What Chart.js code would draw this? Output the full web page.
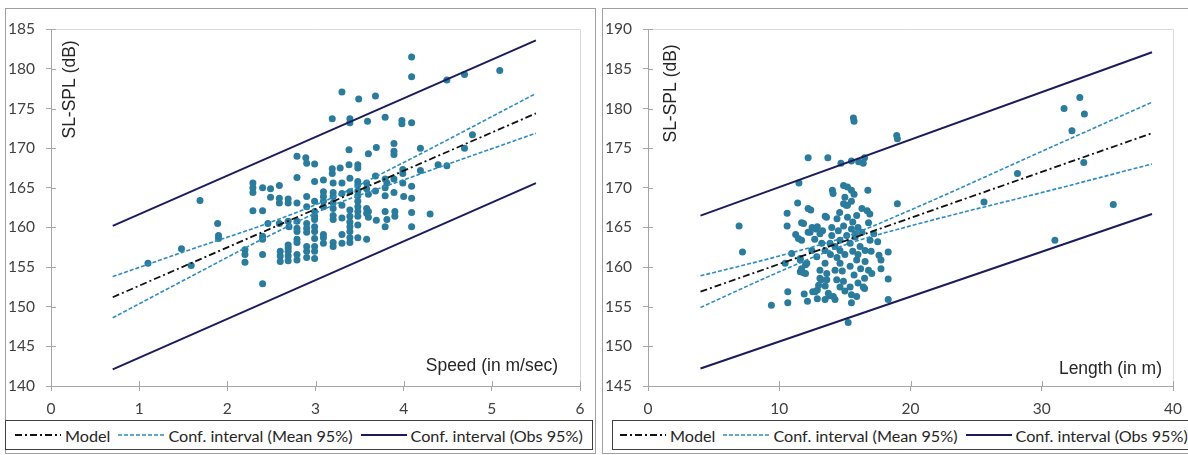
<!DOCTYPE html>
<html>
<head>
<meta charset="utf-8">
<script src="https://cdn.jsdelivr.net/npm/chart.js@4.4.1/dist/chart.umd.min.js"></script>
<style>
    html, body { margin: 0; padding: 0; background: #fff; }
    body { position: relative; width: 1188px; height: 455px; overflow: hidden; font-family: Lato, "Open Sans", sans-serif; }
    .panel { position: absolute; top: 8px; height: 446px; border: 1px solid #a0a0a0; box-sizing: border-box; }
    #p1 { left: 5px; width: 591px; }
    #p2 { left: 602px; width: 620px; }
    .wrap { position: absolute; left: 0; top: 0; height: 410px; }
    #p1 .wrap { width: 589px; }
    #p2 .wrap { width: 618px; }
    .legend { position: absolute; top: 411px; height: 30px; border: 1px solid #404040; box-sizing: border-box;
              display: flex; align-items: center; white-space: nowrap; font-size: 16.2px; color: #262626; }
    #p1 .legend { left: -1px; width: 588px; padding-left: 9px; }
    #p2 .legend { left: 9px; width: 600px; padding-left: 7px; }
    .legend span { display: inline-flex; align-items: center; margin-right: 8px; }
    .legend svg { margin-right: 4px; }
</style>
</head>
<body>
<div class="panel" id="p1">
    <div class="wrap"><canvas id="speedChart"></canvas></div>
    <div class="legend" id="speedLegend"></div>
</div>
<div class="panel" id="p2">
    <div class="wrap"><canvas id="lengthChart"></canvas></div>
    <div class="legend" id="lengthLegend"></div>
</div>
<script>
// Observations: [speed (m/s), SL-SPL (dB)]
const speedPoints = [
    [1.10,155.5],[1.48,157.3],[1.59,155.2],[1.69,163.4],[1.89,160.5],[1.90,159.0],[1.90,158.6],
    [2.20,157.2],[2.20,156.6],[2.20,155.6],
    [2.29,165.6],[2.29,165.0],[2.29,164.4],[2.29,162.1],
    [2.40,165.0],[2.40,162.1],[2.40,158.9],[2.40,158.5],[2.40,156.6],[2.40,152.9],
    [2.49,164.9],[2.49,163.8],[2.46,160.5],
    [2.59,165.3],[2.59,163.7],[2.59,163.1],[2.59,160.5],[2.60,157.0],[2.60,156.4],[2.60,155.7],
    [2.69,163.6],[2.69,163.1],[2.70,160.1],[2.69,160.8],[2.69,157.8],[2.69,157.4],[2.69,157.0],[2.69,156.4],[2.69,155.8],
    [2.79,169.0],[2.79,166.3],[2.79,163.1],[2.79,160.8],[2.79,159.9],[2.79,159.5],[2.79,158.5],[2.79,158.1],[2.79,156.6],[2.79,155.9],
    [2.89,168.8],[2.90,168.1],[2.90,163.9],[2.90,162.6],[2.90,160.5],[2.90,159.9],[2.90,159.4],[2.90,157.6],[2.90,157.0],[2.90,156.2],
    [2.99,168.0],[2.99,165.8],[2.99,163.3],[2.99,162.0],[2.99,161.4],[2.99,161.0],[2.99,160.1],[2.99,159.5],[2.99,158.6],[2.99,157.6],[2.99,157.0],[2.99,156.1],
    [3.09,166.0],[3.09,164.5],[3.09,163.9],[3.09,163.3],[3.09,162.6],[3.09,159.1],[3.09,158.7],[3.09,158.0],
    [3.19,173.7],[3.19,167.4],[3.19,166.8],[3.20,165.6],[3.20,164.4],[3.20,163.9],[3.20,163.1],[3.20,162.4],[3.20,161.5],[3.20,161.0],[3.20,158.1],[3.20,157.6],
    [3.30,177.1],[3.28,167.5],[3.30,165.6],[3.30,164.3],[3.30,162.8],[3.30,161.2],[3.30,159.1],[3.30,158.0],
    [3.39,173.7],[3.39,173.2],[3.38,169.8],[3.38,167.9],[3.39,166.2],[3.39,164.5],[3.39,162.2],[3.39,161.4],[3.39,160.7],[3.39,160.1],[3.39,159.5],[3.39,158.7],[3.39,158.1],
    [3.49,176.2],[3.48,167.9],[3.48,167.5],[3.48,165.8],[3.48,165.4],[3.48,164.6],[3.48,164.0],[3.48,163.3],[3.48,162.6],[3.48,162.0],[3.48,161.4],[3.48,160.3],[3.48,158.7],
    [3.59,173.4],[3.60,169.3],[3.58,165.6],[3.58,164.9],[3.60,164.2],[3.58,162.4],[3.60,162.0],[3.58,161.8],[3.60,161.3],[3.58,158.5],
    [3.68,176.6],[3.69,170.1],[3.68,166.5],[3.68,164.6],[3.69,160.9],
    [3.79,173.9],[3.79,166.1],[3.81,165.6],[3.79,165.0],[3.79,164.0],[3.79,162.0],[3.81,161.0],[3.79,160.1],
    [3.89,170.6],[3.89,169.6],[3.89,169.2],[3.89,166.1],[3.89,164.4],[3.90,162.0],[3.90,161.4],
    [3.98,173.5],[3.98,173.1],[3.99,167.3],[3.99,166.8],[3.99,165.6],[4.00,163.9],
    [4.09,181.5],[4.09,179.0],[4.09,173.2],[4.09,165.2],[4.09,163.7],[4.09,161.9],[4.09,160.1],
    [4.19,170.0],[4.19,167.2],[4.30,161.7],[4.39,167.9],[4.49,167.8],[4.49,178.6],
    [4.69,179.3],[4.69,170.0],[4.78,171.7],[5.09,179.8]
];

// Fitted lines, speed panel
const speedLineX = [0.7, 5.5];
const speedModel = [151.2, 174.4];
const speedObsUp = [160.2, 183.6];
const speedObsLo = [142.1, 165.6];
const speedCiX = [0.7, 1.5, 2.5, 3.2, 4.0, 5.5];
const speedMeanUp = [153.8, 156.9, 160.7, 163.8, 168.2, 176.9];
const speedMeanLo = [148.6, 153.3, 159.1, 162.8, 166.0, 171.9];

// Observations: [length (m), SL-SPL (dB)]
const lengthPoints = [
    [6.94,165.2],[7.20,161.9],[9.40,155.2],[10.45,160.5],[10.60,166.8],[10.60,165.2],[10.65,156.9],[10.65,155.5],
    [10.95,161.7],[11.25,164.1],[11.46,163.6],[11.40,168.1],[11.50,170.6],[11.60,160.9],[11.60,159.4],[11.60,161.1],
    [11.70,163.4],[11.70,165.6],[11.70,159.8],[11.85,165.5],[11.85,159.3],[11.90,156.6],[12.00,160.3],[12.00,159.2],
    [12.10,160.5],[12.15,155.7],[12.20,173.8],[12.20,167.4],[12.40,167.2],[12.20,164.4],[12.35,164.4],[12.48,162.1],
    [12.55,156.9],[12.50,165.0],[12.70,163.5],[12.72,156.9],[12.80,164.8],[12.86,161.3],[12.90,157.1],[12.90,156.0],
    [12.90,165.1],[13.00,157.7],[13.10,164.2],[13.10,159.6],[13.10,158.6],[13.20,158.4],[13.24,163.0],[13.30,164.6],
    [13.49,162.1],[13.49,160.5],[13.49,155.9],[13.50,166.4],[13.50,157.6],[13.60,166.3],[13.62,159.2],[13.62,158.4],
    [13.70,173.8],[13.74,156.7],[13.80,156.4],[13.87,163.0],[13.90,161.6],[14.00,165.0],[14.00,164.0],[14.05,169.7],
    [14.10,169.3],[14.12,156.3],[14.25,162.6],[14.25,159.6],[14.25,155.9],[14.38,158.4],[14.40,166.1],[14.40,161.2],
    [14.50,164.6],[14.60,166.9],[14.63,163.4],[14.63,162.1],[14.63,160.5],[14.63,157.5],[14.70,173.1],[14.80,159.5],
    [14.89,158.2],[14.90,170.3],[14.90,168.0],[14.90,165.2],[15.00,168.8],[15.00,161.6],[15.00,157.0],[15.10,167.8],
    [15.14,164.0],[15.20,170.1],[15.20,167.8],[15.20,166.3],[15.25,153.0],[15.40,163.0],[15.40,160.1],[15.40,157.5],
    [15.50,173.4],[15.50,169.7],[15.50,168.3],[15.50,164.8],[15.50,156.5],[15.50,155.5],[15.60,165.7],[15.60,162.0],
    [15.65,178.8],[15.70,178.4],[15.70,169.2],[15.70,159.0],[15.78,163.8],[15.80,164.2],[15.90,166.5],[15.90,160.9],
    [15.90,156.3],[16.00,165.0],[16.00,161.6],[16.00,158.0],[16.05,173.3],[16.16,162.6],[16.20,159.8],[16.30,167.4],
    [16.30,164.4],[16.40,173.1],[16.40,157.5],[16.50,173.8],[16.50,158.6],[16.50,157.3],[16.54,162.1],[16.54,160.7],
    [16.70,167.1],[16.75,169.7],[16.80,165.6],[16.80,159.6],[16.90,166.7],[16.92,163.4],[17.00,162.0],[17.05,159.2],
    [17.20,164.2],[17.50,163.2],[17.60,161.5],[17.75,160.9],[17.75,159.8],[18.30,161.9],[18.30,158.5],[18.30,155.9],
    [18.95,176.6],[19.00,176.2],[19.00,168.0],[25.60,168.2],[28.15,171.8],[31.00,163.4],[31.70,180.0],[32.30,177.2],
    [32.90,181.4],[33.25,179.3],[33.20,173.2],[35.45,167.9]
];

// Fitted lines, length panel
const lengthLineX = [4.0, 38.4];
const lengthModel = [156.9, 176.9];
const lengthObsUp = [166.5, 187.1];
const lengthObsLo = [147.2, 166.7];
const lengthCiX = [4.0, 10, 15, 20, 30, 38.4];
const lengthMeanUp = [158.9, 161.4, 163.8, 167.2, 174.6, 180.8];
const lengthMeanLo = [154.9, 159.4, 162.8, 165.2, 169.4, 173.0];

const POINT = '#2b7b9c';
const OBS = '#1c1c5c';
const MEAN = '#2d8dc2';
const MODEL = '#111111';
const AXIS = '#a6a6a6';
const TEXT = '#404040';

Chart.defaults.font.family = 'Lato, "Open Sans", sans-serif';
Chart.defaults.font.size = 15.5;
Chart.defaults.color = TEXT;

function pairs(xs, ys) {
    return xs.map((x, i) => ({ x: x, y: ys[i] }));
}

// light frame on top/right, cross tick marks, axis titles inside the plot
const frame = {
    id: 'frame',
    beforeDatasetsDraw(chart) {
        const { ctx, chartArea: a, scales } = chart;
        ctx.save();
        ctx.lineWidth = 1;
        ctx.strokeStyle = '#d9d9d9';
        ctx.beginPath();
        ctx.moveTo(a.left, Math.round(a.top) + 0.5);
        ctx.lineTo(Math.round(a.right) + 0.5, Math.round(a.top) + 0.5);
        ctx.lineTo(Math.round(a.right) + 0.5, a.bottom);
        ctx.stroke();
        ctx.strokeStyle = AXIS;
        ctx.beginPath();
        scales.x.ticks.forEach(t => {
            const px = Math.round(scales.x.getPixelForValue(t.value)) + 0.5;
            ctx.moveTo(px, a.bottom);
            ctx.lineTo(px, a.bottom - 5);
        });
        scales.y.ticks.forEach(t => {
            const py = Math.round(scales.y.getPixelForValue(t.value)) + 0.5;
            ctx.moveTo(a.left, py);
            ctx.lineTo(a.left + 5, py);
        });
        ctx.stroke();
        ctx.restore();
    },
    afterDraw(chart, args, opts) {
        const { ctx, chartArea: a } = chart;
        ctx.save();
        ctx.fillStyle = '#262626';
        ctx.font = '17.5px "Liberation Sans", Arial, sans-serif';
        ctx.textAlign = 'right';
        ctx.textBaseline = 'alphabetic';
        ctx.fillText(opts.xTitle, a.right - opts.xDx, a.bottom - opts.xDy);
        ctx.translate(a.left + opts.yDx, a.top + opts.yDy);
        ctx.rotate(-Math.PI / 2);
        ctx.textBaseline = 'middle';
        ctx.fillText(opts.yTitle, 0, 0);
        ctx.restore();
    }
};

function lineSet(label, xs, ys, color, width, dash, curved) {
    return {
        label: label,
        data: pairs(xs, ys),
        showLine: true,
        borderColor: color,
        backgroundColor: color,
        borderWidth: width,
        borderDash: dash,
        pointRadius: 0,
        cubicInterpolationMode: curved ? 'monotone' : 'default',
    };
}

function makeChart(id, legendId, c) {
    const datasets = [
        lineSet('Model', c.lineX, c.model, MODEL, 1.8, [7, 3, 2, 3]),
        lineSet('Conf. interval (Mean 95%)', c.ciX, c.meanUp, MEAN, 1.6, [4, 2], true),
        lineSet('', c.ciX, c.meanLo, MEAN, 1.6, [4, 2], true),
        lineSet('Conf. interval (Obs 95%)', c.lineX, c.obsUp, OBS, 2, []),
        lineSet('', c.lineX, c.obsLo, OBS, 2, []),
        {
            label: '',
            data: c.points.map(p => ({ x: p[0], y: p[1] })),
            pointRadius: 3.5,
            pointBackgroundColor: POINT,
            pointBorderWidth: 0,
        },
    ];

    new Chart(document.getElementById(id), {
        type: 'scatter',
        data: { datasets: datasets },
        options: {
            responsive: true,
            maintainAspectRatio: false,
            animation: false,
            layout: { padding: { top: 18, right: c.padRight, left: 0, bottom: 0 } },
            plugins: {
                legend: { display: false },
                tooltip: { enabled: false },
                frame: c.titles,
            },
            scales: {
                x: {
                    type: 'linear',
                    min: c.xMin, max: c.xMax,
                    ticks: { stepSize: c.xStep, padding: 9, color: TEXT },
                    grid: { drawOnChartArea: false, tickLength: 5, color: AXIS },
                    border: { color: AXIS },
                    afterFit: s => { s.height = 33; },
                },
                y: {
                    min: c.yMin, max: c.yMax,
                    ticks: { stepSize: 5, padding: 11, color: TEXT },
                    grid: { drawOnChartArea: false, tickLength: 5, color: AXIS },
                    border: { color: AXIS },
                    afterFit: s => { s.width = 45; },
                },
            },
        },
        plugins: [frame],
    });

    // legend box below the plot
    const legend = document.getElementById(legendId);
    datasets.filter(d => d.label).forEach(d => {
        const item = document.createElement('span');
        item.innerHTML = '<svg width="46" height="10"><line x1="0" y1="5" x2="46" y2="5" stroke="' + d.borderColor +
            '" stroke-width="' + d.borderWidth + '" stroke-dasharray="' + (d.borderDash.join(' ') || 'none') + '"/></svg>';
        item.appendChild(document.createTextNode(d.label));
        legend.appendChild(item);
    });
}

makeChart('speedChart', 'speedLegend', {
    points: speedPoints,
    lineX: speedLineX, model: speedModel, obsUp: speedObsUp, obsLo: speedObsLo,
    ciX: speedCiX, meanUp: speedMeanUp, meanLo: speedMeanLo,
    xMin: 0, xMax: 6, xStep: 1, yMin: 140, yMax: 185,
    padRight: 15,
    titles: { xTitle: 'Speed (in m/sec)', xDx: 22, xDy: 15, yTitle: 'SL-SPL (dB)', yDx: 19, yDy: 11 },
});

makeChart('lengthChart', 'lengthLegend', {
    points: lengthPoints,
    lineX: lengthLineX, model: lengthModel, obsUp: lengthObsUp, obsLo: lengthObsLo,
    ciX: lengthCiX, meanUp: lengthMeanUp, meanLo: lengthMeanLo,
    xMin: 0, xMax: 40, xStep: 10, yMin: 145, yMax: 190,
    padRight: 48,
    titles: { xTitle: 'Length (in m)', xDx: 11, xDy: 12, yTitle: 'SL-SPL (dB)', yDx: 23, yDy: 15 },
});
</script>
</body>
</html>
